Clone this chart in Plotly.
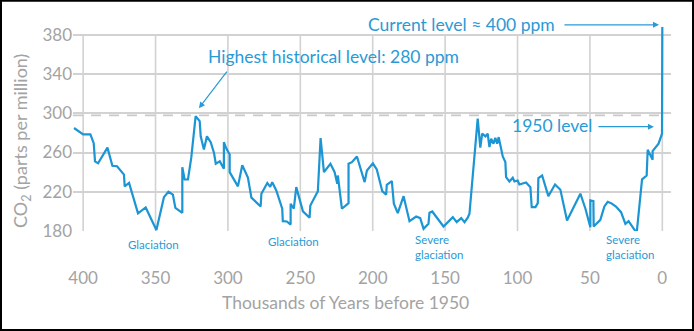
import plotly.graph_objects as go

# Thousands of years before 1950 and CO2 concentration (ppm)
kyr = [406.3, 400, 395, 392.7, 391.8, 389.7, 383.2, 379.8, 376.6, 371.8, 371.3, 368.3,
       362.1, 356.8, 349.4, 344.2, 341.1, 338, 336.3, 331.5, 331.5, 329.9, 327.6, 325.3,
       322.3, 319.5, 318.8, 316.6, 314.5, 311.9, 309.6, 308.4, 305.6, 302.8, 302.8, 301.1,
       298.8, 298.8, 293.1, 290.1, 286.2, 283.8, 277.4, 276.9, 272.8, 270.8, 269.4, 266.6,
       262.5, 262.1, 259.3, 256.7, 256.7, 254.5, 252.8, 248.2, 243.6, 243.1, 237.9, 236,
       233.7, 229.2, 226.3, 224.5, 224.1, 222.9, 221.3, 216.7, 216.7, 214.4, 210.9, 205.6,
       204, 199.9, 197.2, 193.4, 190.7, 190.3, 186.8, 185.4, 182.7, 178.7, 174.6, 170,
       167.2, 164.9, 161.5, 160.8, 158.9, 151.1, 144.7, 142, 138.9, 136.6, 134.4, 133.2,
       127.5, 125.7, 124.4, 122.2, 120.6, 119.4, 118.2, 116.6, 115.3, 114.1, 113, 110.2,
       108.4, 107.9, 105.6, 103.3, 102.1, 99.9, 98.7, 94.1, 91.1, 90.2, 87.6, 86,
       85.6, 83, 78.7, 74.1, 70.4, 65.8, 56.6, 53.1, 49.7, 49.7, 47.6, 47.4,
       42.8, 40, 37.7, 35.4, 32, 28.5, 25.5, 23.3, 20.5, 17.7, 14, 10.8,
       10.1, 6.7, 6.7, 2.6, 0.2, 0]
ppm = [285, 278.5, 278.5, 269.5, 251, 249, 265, 246.5, 246, 237.5, 225.5, 229,
       198, 204, 181, 214.5, 220, 217, 203.5, 198.5, 245, 232.5, 232.5, 255,
       297, 292, 276.5, 263, 276.5, 270.5, 259.5, 248.5, 251, 243.5, 270.5, 264,
       258, 240, 225.5, 247, 234.5, 214, 205, 218, 229, 225, 229.8, 221.3,
       202.7, 190, 189.7, 186.6, 207.8, 202.7, 224.7, 200, 193.5, 206, 220.6, 274.7,
       240, 248.6, 240, 228.2, 236.6, 219.6, 202.7, 208.4, 248.6, 250.2, 256, 229.8,
       241.7, 249, 242.8, 220.6, 216.9, 227.1, 230.8, 207.8, 198.2, 215.5, 190, 194.8,
       193.1, 182.2, 187.3, 198.6, 199.9, 184.6, 194.1, 189, 193.1, 189, 193.5, 197.6,
       294.5, 264.9, 279.2, 276.4, 279.2, 265.5, 274.1, 269, 275.1, 269, 275.7, 256,
       250.2, 234.9, 230.5, 234.3, 230.5, 231.5, 227.4, 229.5, 224.7, 204.3, 204.3, 208.4,
       233.9, 236.6, 215.5, 227.4, 222, 190.7, 218, 202.7, 183.9, 211.1, 210.4, 184.6,
       191.4, 205, 209.8, 208.4, 205, 199.2, 187.3, 190, 183.9, 178, 232.6, 236.6,
       262.9, 252.7, 261.4, 269, 279.2, 388]

x_ticks = [400, 350, 300, 250, 200, 150, 100, 50, 0]
y_ticks = [180, 220, 260, 300, 340, 380]
peak_level = 297.9

BLUE = "#1b95d3"
TXT_BLUE = "#2a9ad6"
GRAY = "#a3a3a3"
GRID = "#d2d2d2"
FONT = "Lato"

Y0, Y1 = 180, 390   # axis range; gridded part is 180..380
PX_PER_UNIT = 0.98
PLOT_BOTTOM = 231
plot_h = (Y1 - Y0) * PX_PER_UNIT
top_margin = PLOT_BOTTOM - plot_h
H = 331

def py2paper(py):
    return (PLOT_BOTTOM - py) / plot_h

fig = go.Figure()
fig.add_trace(go.Scatter(x=[407, 0], y=[peak_level, peak_level], mode="lines",
                         line=dict(color="#c9c9c9", width=1.6, dash="10px,8px"),
                         hoverinfo="skip", showlegend=False))
fig.add_trace(go.Scatter(x=kyr, y=ppm, mode="lines",
                         line=dict(color=BLUE, width=2.2), showlegend=False))

fig.update_layout(
    width=694, height=H,
    margin=dict(l=73, r=23, t=top_margin, b=H - PLOT_BOTTOM),
    paper_bgcolor="white", plot_bgcolor="white",
    font=dict(family=FONT, color=GRAY, size=17),
    xaxis=dict(range=[407, -6], tickvals=x_ticks, ticktext=[str(v) for v in x_ticks],
               showgrid=False, zeroline=False,
               showline=False, ticks="outside", ticklen=32, tickcolor="rgba(0,0,0,0)",
               tickfont=dict(family=FONT, size=17, color=GRAY)),
    yaxis=dict(range=[Y0, Y1], tickvals=y_ticks, showgrid=True, gridcolor=GRID,
               gridwidth=1.5, zeroline=False, showline=False, ticks="",
               tickfont=dict(family=FONT, size=17, color=GRAY)),
)

# vertical gridlines, only across the gridded 180..380 band
for xv in x_ticks:
    fig.add_shape(type="line", xref="x", yref="y", x0=xv, x1=xv,
                  y0=y_ticks[0], y1=y_ticks[-1], layer="below",
                  line=dict(color=GRID, width=1.6))

ann = []
ann.append(dict(text="CO<sub>2</sub> (parts per million)", xref="paper", yref="paper",
                x=-0.0853, y=py2paper(141), textangle=-90, showarrow=False,
                xanchor="center", yanchor="middle",
                font=dict(family=FONT, size=18, color=GRAY)))
ann.append(dict(text="Thousands of Years before 1950", xref="paper", yref="paper",
                x=0.4565, y=py2paper(302), showarrow=False, yanchor="middle",
                xanchor="center",
                font=dict(family=FONT, size=17.5, color=GRAY)))
# labels
ann.append(dict(text="Highest historical level: 280 ppm", x=227.4, y=357.6, showarrow=False,
                font=dict(family=FONT, size=17.5, color=TXT_BLUE)))
ann.append(dict(text="Current level ≈ 400 ppm", x=138.7, yref="paper", y=py2paper(24.5),
                showarrow=False, yanchor="middle",
                font=dict(family=FONT, size=17.5, color=TXT_BLUE)))
ann.append(dict(text="1950 level", x=76.2, y=287.7, showarrow=False,
                font=dict(family=FONT, size=17.5, color=TXT_BLUE)))
small = dict(family=FONT, size=11.5, color=TXT_BLUE)
ann.append(dict(text="Glaciation", x=351.1, yref="paper", y=py2paper(244.5),
                yanchor="middle", showarrow=False, font=small))
ann.append(dict(text="Glaciation", x=254.7, yref="paper", y=py2paper(241.5),
                yanchor="middle", showarrow=False, font=small))
ann.append(dict(text="Severe<br>glaciation", x=172.2, yref="paper", y=py2paper(247),
                yanchor="middle", showarrow=False, xanchor="left", align="left", font=small))
ann.append(dict(text="Severe<br>glaciation", x=40.3, yref="paper", y=py2paper(247),
                yanchor="middle", showarrow=False, xanchor="left", align="left", font=small))
# arrows
arrows = [
    dict(x=320, y=305.2, ax=29, ay=-38),
    dict(x=2.3, yref="paper", y=py2paper(25), ax=-96, ay=0),
    dict(x=5.8, y=286.4, ax=-57, ay=0),
]
for a in arrows:
    ann.append(dict(text="", showarrow=True, arrowhead=2, arrowsize=1, arrowwidth=1.2,
                    arrowcolor=TXT_BLUE, standoff=0, startstandoff=0, **a))
fig.update_layout(annotations=ann)

# outer frame
fig.add_shape(type="rect", xref="paper", yref="paper",
              x0=-72/598, x1=1+22/598, y0=py2paper(330), y1=py2paper(1),
              line=dict(color="black", width=2), fillcolor="rgba(0,0,0,0)", layer="above")

fig.write_html("out.html", config={"displayModeBar": False})
